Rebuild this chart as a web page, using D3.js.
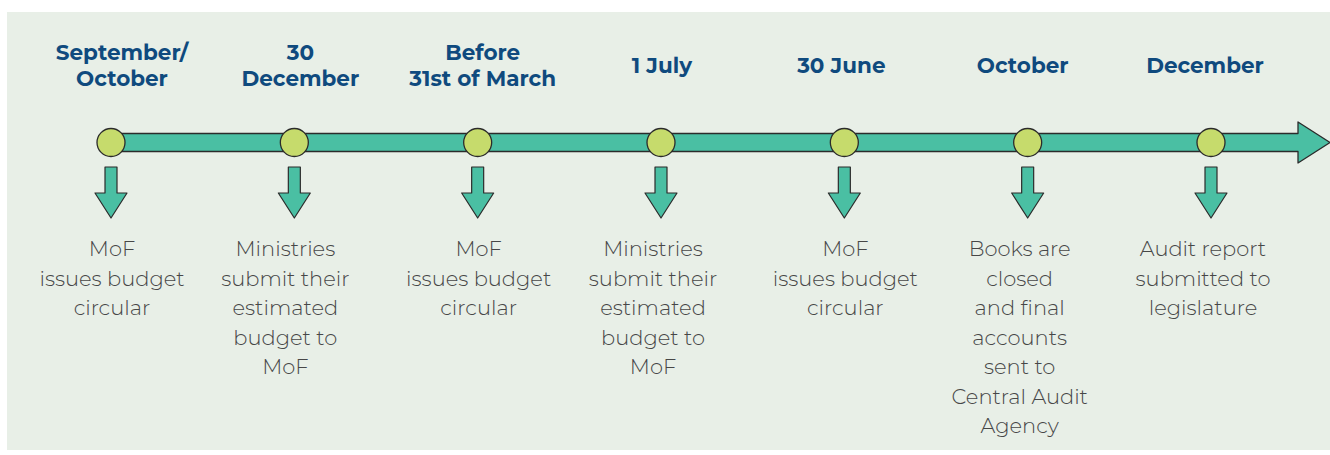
<!DOCTYPE html>
<html>
<head>
<meta charset="utf-8">
<script src="https://cdn.jsdelivr.net/npm/d3@7"></script>
<style>
  html, body { margin: 0; padding: 0; background: #ffffff; }
  svg { display: block; }
</style>
</head>
<body>
<svg id="chart" width="1330" height="455"></svg>
<script>
const dates = [
  ["September/", "October"],
  ["30", "December"],
  ["Before", "31st of March"],
  ["1 July"],
  ["30 June"],
  ["October"],
  ["December"]
];
const descriptions = [
  ["MoF", "issues budget", "circular"],
  ["Ministries", "submit their", "estimated", "budget to", "MoF"],
  ["MoF", "issues budget", "circular"],
  ["Ministries", "submit their", "estimated", "budget to", "MoF"],
  ["MoF", "issues budget", "circular"],
  ["Books are", "closed", "and final", "accounts", "sent to", "Central Audit", "Agency"],
  ["Audit report", "submitted to", "legislature"]
];
const steps = d3.range(dates.length);

const svg = d3.select("#chart");
const W = 1330, H = 455;

// layout: small horizontal nudges of text blocks relative to their marker
const headerNudge = [11, 6, 5, 1, -3, -5, -6];
const descNudge = [1, -9, 1, -8, 1, -8, -8];

// background panel
svg.append("rect").attr("x", 7).attr("y", 12).attr("width", W - 7).attr("height", 438)
  .attr("fill", "#e8efe7");

const x = d3.scalePoint().domain(steps).range([111, 1211]);
const lineY = 142.5;
const teal = "#4abfa3", lime = "#c6db6c", stroke = "#2b2b2b";

// main timeline arrow
const barH = 18, headX = 1298, headHalf = 20.5, tipX = 1330;
const p = d3.path();
p.moveTo(x(0), lineY - barH / 2);
p.lineTo(headX, lineY - barH / 2);
p.lineTo(headX, lineY - headHalf);
p.lineTo(tipX, lineY);
p.lineTo(headX, lineY + headHalf);
p.lineTo(headX, lineY + barH / 2);
p.lineTo(x(0), lineY + barH / 2);
p.closePath();
svg.append("path").attr("d", p.toString()).attr("fill", teal)
  .attr("stroke", stroke).attr("stroke-width", 1.3).attr("stroke-linejoin", "round");

const g = svg.selectAll("g.step").data(steps).join("g").attr("class", "step")
  .attr("transform", d => `translate(${x(d)},0)`);

// down arrows
g.append("path")
  .attr("d", () => {
    const q = d3.path();
    q.moveTo(-6, 167); q.lineTo(6, 167); q.lineTo(6, 193); q.lineTo(16, 193);
    q.lineTo(0, 218); q.lineTo(-16, 193); q.lineTo(-6, 193); q.closePath();
    return q.toString();
  })
  .attr("fill", teal).attr("stroke", stroke).attr("stroke-width", 1.2).attr("stroke-linejoin", "round");

// circles
g.append("circle").attr("cx", 0).attr("cy", lineY).attr("r", 14)
  .attr("fill", lime).attr("stroke", stroke).attr("stroke-width", 1.3);

// date labels
g.each(function(d) {
  const lines = dates[d];
  const lh = 26;
  const startY = 65 - (lines.length - 1) * lh / 2;
  const t = d3.select(this).append("text")
    .attr("text-anchor", "middle")
    .attr("font-family", "Montserrat, 'Open Sans', 'Noto Sans', sans-serif")
    .attr("font-weight", 700).attr("font-size", 21.5).attr("fill", "#0f4a7e");
  lines.forEach((l, i) => {
    t.append("tspan").attr("x", headerNudge[d]).attr("y", startY + i * lh).attr("dy", "0.35em").text(l);
  });
});

// descriptions
g.each(function(d) {
  const lines = descriptions[d];
  const t = d3.select(this).append("text")
    .attr("text-anchor", "middle")
    .attr("font-family", "Montserrat, 'Open Sans', 'Noto Sans', sans-serif")
    .attr("font-weight", 300).attr("font-size", 21).attr("fill", "#474747");
  lines.forEach((l, i) => {
    t.append("tspan").attr("x", descNudge[d]).attr("y", 256 + i * 29.5).text(l);
  });
});
</script>
</body>
</html>
